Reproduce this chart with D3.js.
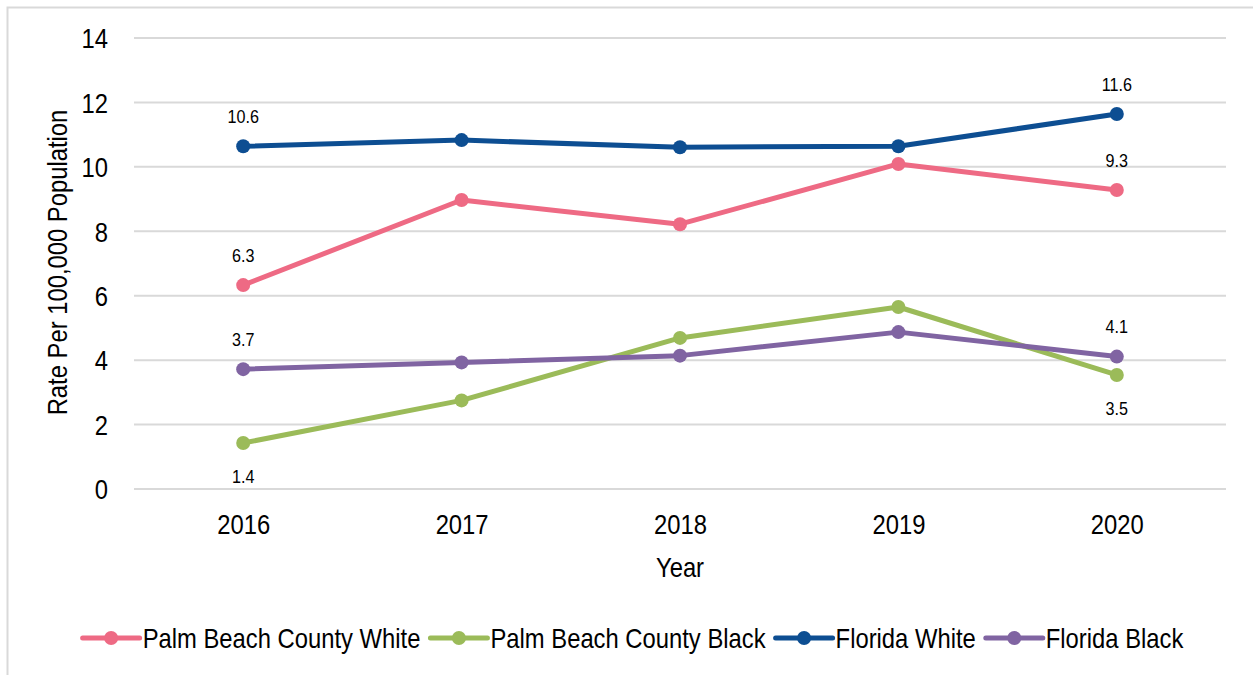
<!DOCTYPE html>
<html>
<head>
<meta charset="utf-8">
<script src="https://cdn.jsdelivr.net/npm/d3@7"></script>
<style>
  body { margin: 0; background: #fff; }
  text { font-family: "Liberation Sans Narrow", "Arial Narrow", "Liberation Sans", Arial, sans-serif; fill: #000; }
</style>
</head>
<body>
<div id="chart"></div>
<script>
// Chart data
const years = ["2016", "2017", "2018", "2019", "2020"];
const pbcWhite = [6.33, 8.97, 8.22, 10.09, 9.28];
const pbcBlack = [1.43, 2.75, 4.69, 5.65, 3.54];
const flWhite = [10.64, 10.83, 10.61, 10.64, 11.64];
const flBlack = [3.72, 3.93, 4.14, 4.87, 4.11];
const yTicks = [0, 2, 4, 6, 8, 10, 12, 14];
const seriesNames = ["Palm Beach County White", "Palm Beach County Black", "Florida White", "Florida Black"];
const seriesColors = ["#EE6A84", "#9BBB59", "#0D4E92", "#8064A2"];

const series = [
  { name: seriesNames[0], values: pbcWhite, color: seriesColors[0], labelPos: "above" },
  { name: seriesNames[1], values: pbcBlack, color: seriesColors[1], labelPos: "below" },
  { name: seriesNames[2], values: flWhite, color: seriesColors[2], labelPos: "above" },
  { name: seriesNames[3], values: flBlack, color: seriesColors[3], labelPos: "above" }
];

const W = 1253, H = 675;
const margin = { top: 38, right: 27, bottom: 186, left: 134 };
const width = W - margin.left - margin.right;
const height = H - margin.top - margin.bottom;
const squeeze = 0.85; // narrow look of the original font

// squeeze text horizontally, keeps anchor position
function narrow(sel) {
  sel.each(function() {
    const len = this.getComputedTextLength();
    d3.select(this)
      .attr("textLength", len * squeeze)
      .attr("lengthAdjust", "spacingAndGlyphs");
  });
}

const root = d3.select("#chart").append("svg")
  .attr("width", W)
  .attr("height", H);

// outer frame
root.append("rect")
  .attr("x", 7.5).attr("y", 7.5)
  .attr("width", 1270).attr("height", 700)
  .attr("fill", "none")
  .attr("stroke", "#d9d9d9")
  .attr("stroke-width", 2);

const svg = root.append("g")
  .attr("transform", `translate(${margin.left},${margin.top})`);

const x = d3.scalePoint()
  .domain(years)
  .range([0, width])
  .padding(0.5);

const y = d3.scaleLinear()
  .domain([0, 14])
  .range([height, 0]);

// gridlines
svg.append("g")
  .selectAll("line")
  .data(yTicks)
  .join("line")
  .attr("x1", 0).attr("x2", width)
  .attr("y1", d => y(d)).attr("y2", d => y(d))
  .attr("stroke", "#d9d9d9")
  .attr("stroke-width", 2);

// y axis
const yAxis = svg.append("g")
  .call(d3.axisLeft(y).tickValues(yTicks).tickSize(0).tickPadding(26));
yAxis.select(".domain").remove();
yAxis.selectAll("text").style("font-size", "28px").attr("dy", "0.35em").call(narrow);

// x axis
const xAxis = svg.append("g")
  .attr("transform", `translate(0,${height})`)
  .call(d3.axisBottom(x).tickSize(0).tickPadding(25));
xAxis.select(".domain").remove();
xAxis.selectAll("text").style("font-size", "28px").call(narrow);

// axis titles
svg.append("text")
  .attr("x", width / 2)
  .attr("y", height + 88)
  .attr("text-anchor", "middle")
  .style("font-size", "28px")
  .text("Year")
  .call(narrow);

svg.append("text")
  .attr("transform", `translate(${-margin.left + 67},${height / 2 - 1}) rotate(-90)`)
  .attr("text-anchor", "middle")
  .style("font-size", "28px")
  .text("Rate Per 100,000 Population")
  .call(narrow);

// lines + markers
const line = d3.line()
  .x((d, i) => x(years[i]))
  .y(d => y(d));

series.forEach(s => {
  svg.append("path")
    .datum(s.values)
    .attr("fill", "none")
    .attr("stroke", s.color)
    .attr("stroke-width", 5)
    .attr("stroke-linejoin", "round")
    .attr("d", line);

  svg.append("g")
    .selectAll("circle")
    .data(s.values)
    .join("circle")
    .attr("cx", (d, i) => x(years[i]))
    .attr("cy", d => y(d))
    .attr("r", 7)
    .attr("fill", s.color);

  // labels on first and last points
  [0, s.values.length - 1].forEach(i => {
    const v = s.values[i];
    svg.append("text")
      .attr("x", x(years[i]))
      .attr("y", y(v) + (s.labelPos === "above" ? -30 : 33))
      .attr("dy", "0.35em")
      .attr("text-anchor", "middle")
      .style("font-size", "19px")
      .text(v.toFixed(1))
      .call(narrow);
  });
});

// legend
const legend = root.append("g");
let lx = 0;
series.forEach(s => {
  const item = legend.append("g").attr("transform", `translate(${lx},0)`);
  item.append("line")
    .attr("x1", 0).attr("x2", 57)
    .attr("y1", 0).attr("y2", 0)
    .attr("stroke", s.color)
    .attr("stroke-width", 5)
    .attr("stroke-linecap", "round");
  item.append("circle")
    .attr("cx", 28.5).attr("cy", 0).attr("r", 7)
    .attr("fill", s.color);
  const t = item.append("text")
    .attr("x", 60)
    .attr("y", 0)
    .attr("dy", "0.35em")
    .style("font-size", "28px")
    .text(s.name)
    .call(narrow);
  lx += 60 + (+t.attr("textLength")) + 10;
});
const legendW = lx - 10;
legend.attr("transform", `translate(${633 - legendW / 2},638)`);
</script>
</body>
</html>
